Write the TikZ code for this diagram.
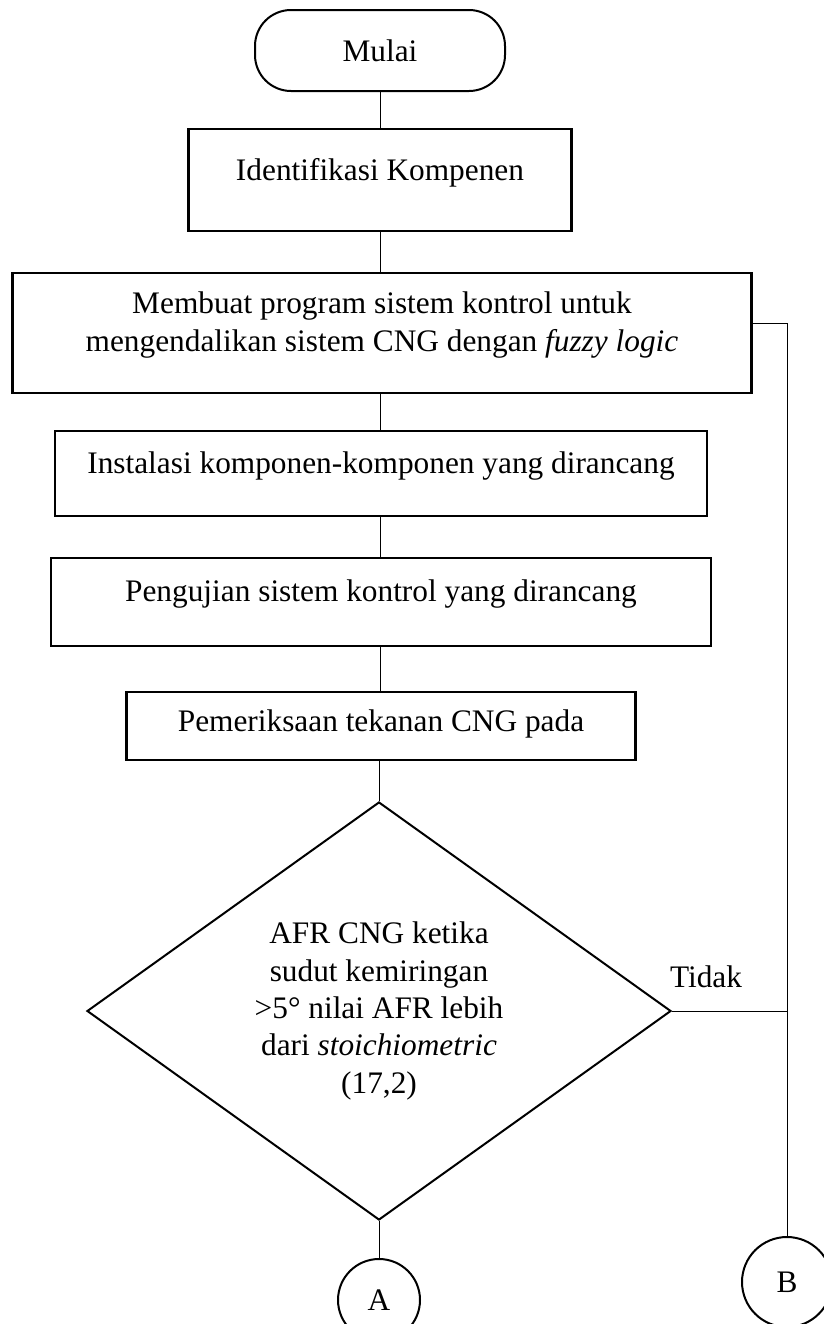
\documentclass[tikz,border=0pt]{standalone}
\usepackage{fontspec}
\setmainfont{Liberation Serif}
\usetikzlibrary{shapes.geometric}
\newcommand{\dn}[1]{\rule[-#1]{0pt}{#1}}

\begin{document}
\begin{tikzpicture}[
        x=0.75pt, y=-0.75pt,
        every node/.style={font=\fontsize{23.5}{29}\selectfont, align=center},
        startn/.style={draw, rectangle, rounded corners=27pt, line width=1.5pt, minimum width=187.5pt, minimum height=60.75pt},
        boxn/.style={draw, rectangle, line width=1.6pt, inner sep=0pt},
        decn/.style={draw, diamond, aspect=1.4, line width=1.5pt, inner sep=0pt, minimum width=438pt, minimum height=313.5pt},
        conn/.style={draw, circle, line width=1.5pt, inner sep=0pt},
        link/.style={draw, line width=0.75pt},
    ]
    \useasboundingbox (0,0) rectangle (824,1324);
    \clip (0,0) rectangle (824,1324);

    \node[startn](mulai) at (380,50.5){Mulai};
    \node[boxn, minimum width=287.25pt, minimum height=76.5pt](ident) at (380,180){Identifikasi Kompenen\dn{16.1pt}};
    \node[boxn, minimum width=554.25pt, minimum height=90pt](prog) at (382,333){Membuat program sistem kontrol untuk\\mengendalikan sistem CNG dengan \textit{fuzzy logic}\dn{16.9pt}};
    \node[boxn, minimum width=489pt, minimum height=63.75pt](instal) at (381,473.5){Instalasi komponen-komponen yang dirancang\dn{16.9pt}};
    \node[boxn, minimum width=495pt, minimum height=66pt](uji) at (381,602){Pengujian sistem kontrol yang dirancang\dn{17.6pt}};
    \node[boxn, minimum width=381.75pt, minimum height=51pt](periksa) at (381,726){Pemeriksaan tekanan CNG pada\dn{8.6pt}};
    \node[decn, font=\fontsize{23.5}{28}\selectfont](dec) at (379,1011){AFR CNG ketika\\sudut kemiringan\\>5° nilai AFR lebih\\dari \textit{stoichiometric}\\(17,2)};
    \node[anchor=base](tidak) at (706,987){Tidak};
    \node[conn, minimum size=61.5pt](A) at (379,1300){A};
    \node[conn, minimum size=67.5pt](B) at (787,1282){B};

    % alur utama
    \draw[link] (mulai) -- (mulai |- ident.north);
    \draw[link] (ident) -- (ident |- prog.north);
    \draw[link] (prog.south -| ident) -- (instal.north -| ident);
    \draw[link] (instal.south -| ident) -- (uji.north -| ident);
    \draw[link] (uji.south -| ident) -- (periksa.north -| ident);
    \draw[link] (periksa.south -| dec) -- (dec.north);
    \draw[link] (dec.south) -- (A.north);
    % cabang tidak
    \draw[link] ([yshift=7.5pt]prog.east) -| (B.north);
    \draw[link] (dec.east) -- (dec.east -| B);
\end{tikzpicture}
\end{document}
